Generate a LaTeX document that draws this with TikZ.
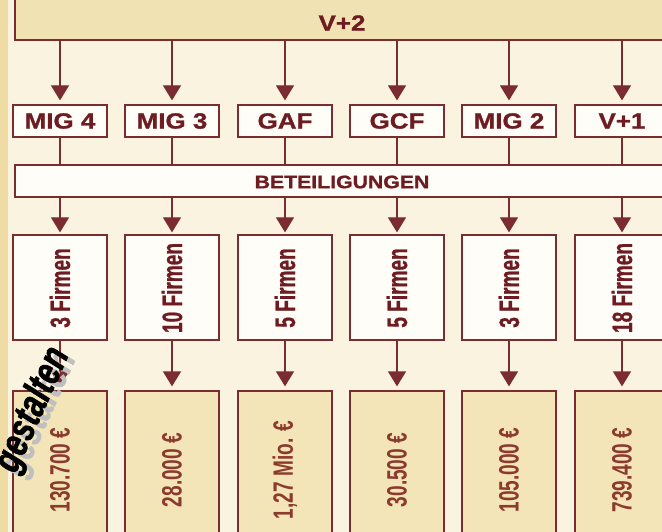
\documentclass[tikz,border=0pt]{standalone}
\usepackage{fontspec}
\setmainfont{Liberation Sans}
\newfontfamily\widef{Liberation Sans}[FakeStretch=1.18,FakeBold=1.2]
\newfontfamily\condf{Liberation Sans}[FakeStretch=0.68,FakeBold=0.8]
\newfontfamily\condm{Liberation Sans}[FakeStretch=0.68]
\newfontfamily\gestf{Liberation Sans}[FakeStretch=0.75,FakeBold=1.5]
\usetikzlibrary{arrows.meta}
\definecolor{bgc}{HTML}{FAF3DF}
\definecolor{stripc}{HTML}{EEDCA4}
\definecolor{barc}{HTML}{F0E2B2}
\definecolor{moneyc}{HTML}{F3E5B8}
\definecolor{boxc}{HTML}{FFFDF7}
\definecolor{linec}{HTML}{7B2C2E}
\definecolor{textc}{HTML}{6E1C22}
\definecolor{mtextc}{HTML}{8B3A2E}
\tikzset{
  frame/.style={draw=linec, line width=1.2pt, inner sep=0pt},
  topbox/.style={frame, fill=boxc, minimum width=94pt, minimum height=32pt,
    font=\widef\bfseries\fontsize{22}{22}\selectfont, text=textc},
  firmbox/.style={frame, fill=boxc, minimum width=94pt, minimum height=105pt},
  moneybox/.style={frame, fill=moneyc, minimum width=94pt, minimum height=158pt},
  firmtext/.style={rotate=90, font=\condf\bfseries\fontsize{28}{28}\selectfont, text=textc},
  moneytext/.style={rotate=90, font=\condm\bfseries\fontsize{28}{28}\selectfont, text=mtextc},
  ln/.style={draw=linec, line width=1.2pt},
  arr/.style={ln, -{Triangle[width=18pt,length=15pt]}, shorten >=4pt},
  gest/.style={rotate=66, font=\gestf\bfseries\itshape\fontsize{40}{40}\selectfont}
}
\begin{document}
\begin{tikzpicture}[x=1pt,y=-1pt]
\clip (0,0) rectangle (662,532);
\fill[bgc] (0,0) rectangle (662,532);
\fill[stripc] (0,0) rectangle (8,532);
% top bar
\node[frame, fill=barc, minimum width=665pt, minimum height=55pt] (top) at (347.5,12.5) {};
\node[font=\widef\bfseries\fontsize{22}{22}\selectfont, text=textc] (vtwo) at (342,23) {V+2};
% participation bar
\node[frame, fill=boxc, minimum width=660pt, minimum height=32pt] (bet) at (345,181) {};
\node[font=\widef\bfseries\fontsize{18}{18}\selectfont, text=textc] (betl) at (342,182) {BETEILIGUNGEN};
\foreach \i/\x/\a/\b/\c in {
  1/60/{MIG 4}/{3 Firmen}/{130.700 €},
  2/172/{MIG 3}/{10 Firmen}/{28.000 €},
  3/285/{GAF}/{5 Firmen}/{1,27 Mio. €},
  4/397/{GCF}/{5 Firmen}/{30.500 €},
  5/509/{MIG 2}/{3 Firmen}/{105.000 €},
  6/622/{V+1}/{18 Firmen}/{739.400 €}}{
  \node[topbox] (m\i) at (\x,121) {\a};
  \node[firmbox] (f\i) at (\x,287.5) {};
  \node[firmtext] (ft\i) at (\x,288) {\b};
  \node[moneybox] (g\i) at (\x,470) {};
  \node[moneytext] (gt\i) at (\x,470) {\c};
  \draw[arr] (top.south -| m\i) -- (m\i.north);
  \draw[ln] (m\i.south) -- (bet.north -| m\i);
  \draw[arr, shorten >=2pt] (bet.south -| f\i) -- (f\i.north);
  \draw[arr] (f\i.south) -- (g\i.north);
}
% overlapping lettering from the scan
\node[gest, text=black!25] (gsh) at (40,414) {gestalten};
\node[gest, text=black] (gs) at (33,410) {gestalten};
\end{tikzpicture}
\end{document}
